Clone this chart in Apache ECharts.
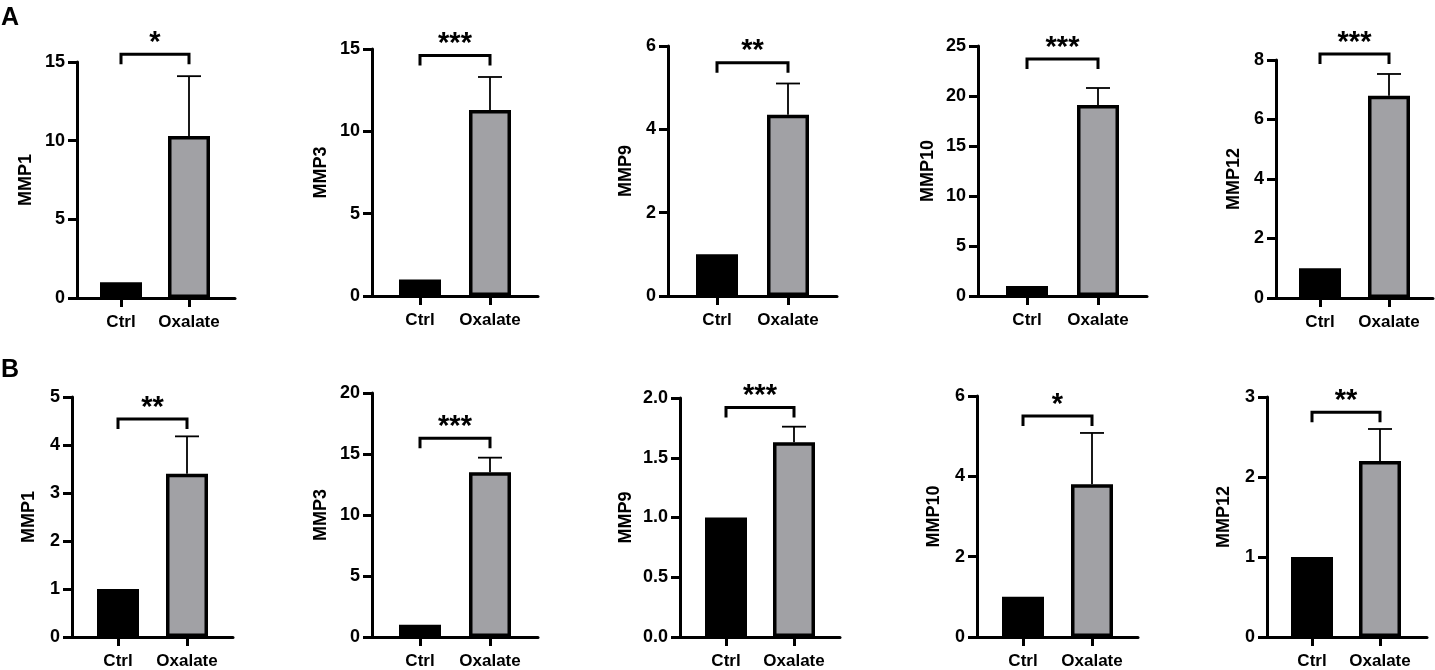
<!DOCTYPE html>
<html>
<head>
<meta charset="utf-8">
<script src="https://cdn.jsdelivr.net/npm/echarts@6/dist/echarts.min.js"></script>
<style>
  html, body { margin: 0; padding: 0; background: #fff; }
  #main { width: 1435px; height: 670px; }
</style>
</head>
<body>
<div id="main"></div>
<script>
// data
var groups = ['Ctrl', 'Oxalate'];
var genes = ['MMP1', 'MMP3', 'MMP9', 'MMP10', 'MMP12'];

var ctrlA = [1, 1, 1, 1, 1];
var oxaA = [10.3, 11.3, 4.35, 19.1, 6.8];
var errA = [3.8, 2.0, 0.75, 1.7, 0.73];
var sigA = ['*', '***', '**', '***', '***'];
var bracketA = [15.5, 14.6, 5.6, 23.7, 8.2];
var maxA = [15, 15, 6, 25, 8];
var stepA = [5, 5, 2, 5, 2];

var ctrlB = [1, 1, 1, 1, 1];
var oxaB = [3.4, 13.5, 1.63, 3.8, 2.2];
var errB = [0.78, 1.2, 0.13, 1.28, 0.4];
var sigB = ['**', '***', '***', '*', '**'];
var bracketB = [4.54, 16.3, 1.92, 5.5, 2.81];
var maxB = [5, 20, 2, 6, 3];
var stepB = [1, 5, 0.5, 2, 1];

// layout (pixels)
var layoutA = {
    left: [77, 372, 668, 978, 1276],
    end: [235, 538, 837, 1147, 1433],
    top: [62, 49, 46, 46, 60],
    base: [298, 296, 296, 296, 298],
    tick0: [121, 420, 717, 1027, 1320],
    tick1: [189, 490, 788, 1098, 1389],
    nameGap: [42, 42, 33, 41, 33]
};
var layoutB = {
    left: [72, 372, 680, 977, 1267],
    end: [233, 538, 840, 1138, 1427],
    top: [397, 393, 398, 396, 397],
    base: [638, 639, 637, 637, 637],
    tick0: [118, 420, 726, 1023, 1312],
    tick1: [187, 490, 794, 1092, 1380],
    nameGap: [34, 42, 45, 34, 34]
};

var font = 'Liberation Sans, Arial, sans-serif';
var grey = '#a1a1a5';

var grids = [], xAxes = [], yAxes = [], series = [];

function addPanel(L, j, ctrl, oxa, err, sig, bracket, max, step) {
    var idx = grids.length;
    var span = L.tick1[j] - L.tick0[j];
    grids.push({
        left: L.left[j],
        width: L.end[j] - L.left[j],
        top: L.top[j],
        height: L.base[j] - L.top[j]
    });
    xAxes.push({
        type: 'value',
        gridIndex: idx,
        min: -(L.tick0[j] - L.left[j]) / span,
        max: 1 + (L.end[j] - L.tick1[j]) / span,
        splitLine: { show: false },
        axisLine: { onZero: false, lineStyle: { color: '#000', width: 3 } },
        axisTick: { show: true, customValues: [0, 1], length: 9, lineStyle: { color: '#000', width: 3 } },
        axisLabel: {
            customValues: [0, 1],
            formatter: function (v) { return groups[Math.round(v)]; },
            color: '#000', fontSize: 17, fontWeight: 'bold', fontFamily: font, margin: 16
        }
    });
    yAxes.push({
        type: 'value',
        gridIndex: idx,
        min: 0,
        max: max,
        interval: step,
        name: genes[j],
        nameLocation: 'middle',
        nameGap: L.nameGap[j],
        nameTextStyle: { color: '#000', fontSize: 18, fontWeight: 'bold', fontFamily: font },
        splitLine: { show: false },
        axisLine: { show: true, onZero: false, lineStyle: { color: '#000', width: 3 } },
        axisTick: { show: true, length: 9, lineStyle: { color: '#000', width: 3 } },
        axisLabel: {
            color: '#000', fontSize: 18, fontWeight: 'bold', fontFamily: font, margin: 12,
            formatter: function (v) { return step < 1 ? v.toFixed(1) : String(v); }
        }
    });
    series.push({
        type: 'bar',
        xAxisIndex: idx,
        yAxisIndex: idx,
        barWidth: 42,
        data: [
            { value: [0, ctrl], itemStyle: { color: '#000' } },
            { value: [1, oxa], itemStyle: { color: grey, borderColor: '#000', borderWidth: 3.5 } }
        ],
        z: 2
    });
    series.push({
        type: 'custom',
        xAxisIndex: idx,
        yAxisIndex: idx,
        data: [[1, oxa, err]],
        z: 1,
        renderItem: function (params, api) {
            var p0 = api.coord([api.value(0), api.value(1)]);
            var p1 = api.coord([api.value(0), api.value(1) + api.value(2)]);
            var st = { stroke: '#000', lineWidth: 1.8 };
            return {
                type: 'group',
                children: [
                    { type: 'line', shape: { x1: p0[0], y1: p0[1], x2: p1[0], y2: p1[1] }, style: st },
                    { type: 'line', shape: { x1: p1[0] - 12, y1: p1[1], x2: p1[0] + 12, y2: p1[1] }, style: st }
                ]
            };
        }
    });
    series.push({
        type: 'custom',
        xAxisIndex: idx,
        yAxisIndex: idx,
        clip: false,
        data: [[0, 1, bracket]],
        z: 3,
        renderItem: function (params, api) {
            var a = api.coord([api.value(0), api.value(2)]);
            var b = api.coord([api.value(1), api.value(2)]);
            return {
                type: 'group',
                children: [
                    {
                        type: 'polyline',
                        shape: { points: [[a[0], a[1] + 10], [a[0], a[1]], [b[0], b[1]], [b[0], b[1] + 10]] },
                        style: { stroke: '#000', lineWidth: 3, fill: null }
                    },
                    {
                        type: 'text',
                        x: (a[0] + b[0]) / 2,
                        y: a[1] + 3,
                        style: {
                            text: sig, fill: '#000', fontSize: 29, fontWeight: 'bold',
                            fontFamily: font, align: 'center', verticalAlign: 'bottom'
                        }
                    }
                ]
            };
        }
    });
}

for (var j = 0; j < 5; j++) {
    addPanel(layoutA, j, ctrlA[j], oxaA[j], errA[j], sigA[j], bracketA[j], maxA[j], stepA[j]);
}
for (var k = 0; k < 5; k++) {
    addPanel(layoutB, k, ctrlB[k], oxaB[k], errB[k], sigB[k], bracketB[k], maxB[k], stepB[k]);
}

var myChart = echarts.init(document.getElementById('main'));
var option = {
    animation: false,
    backgroundColor: '#fff',
    graphic: [
        { type: 'text', left: 1, top: 6, style: { text: 'A', fill: '#000', fontSize: 25, fontWeight: 'bold', fontFamily: font } },
        { type: 'text', left: 1, top: 358, style: { text: 'B', fill: '#000', fontSize: 25, fontWeight: 'bold', fontFamily: font } }
    ],
    grid: grids,
    xAxis: xAxes,
    yAxis: yAxes,
    series: series
};

myChart.setOption(option);
</script>
</body>
</html>
